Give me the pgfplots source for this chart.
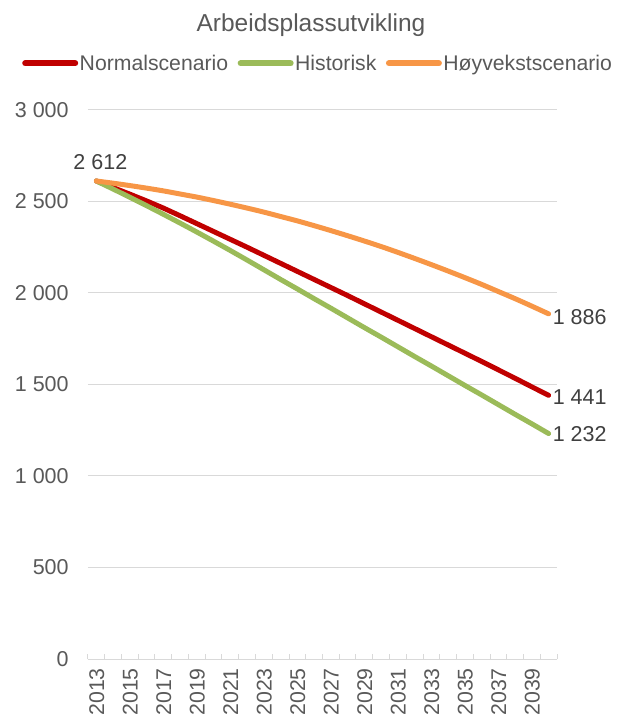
\documentclass[border=0pt]{standalone}
\usepackage{fontspec}
\setmainfont{Liberation Sans}
\usepackage{pgfplots}
\pgfplotsset{compat=1.18}
\definecolor{cred}{HTML}{C00000}
\definecolor{cgreen}{HTML}{9BBB59}
\definecolor{corange}{HTML}{F79646}
\definecolor{gridgray}{HTML}{D9D9D9}
\definecolor{textgray}{HTML}{595959}
\definecolor{labgray}{HTML}{404040}
\begin{document}
\begin{tikzpicture}
\begin{axis}[
  at={(0pt,0pt)}, anchor=south west,
  scale only axis, width=469pt, height=549pt,
  xmin=2012.5, xmax=2040.5, ymin=0, ymax=3000,
  axis x line=bottom, axis y line=left,
  x axis line style={draw=gridgray, line width=1pt, -},
  y axis line style={draw=none},
  xtick={2013,2015,...,2039},
  minor xtick={2012.5,2013.5,...,2040.5},
  major x tick style={draw=none},
  minor x tick style={draw=gridgray, line width=1pt},
  minor tick length=5pt,
  xtick align=inside,
  ytick={0,500,...,3000},
  ytick style={draw=none},
  ymajorgrids, grid style={draw=gridgray, line width=1pt},
  /pgf/number format/assume math mode=true,
  x tick label style={/pgf/number format/1000 sep={}, rotate=90, anchor=east, inner sep=0pt, xshift=-9pt, yshift=-0.5pt,
     font=\fontsize{21.3}{25}\selectfont, text=textgray},
  y tick label style={/pgf/number format/1000 sep={\ }, anchor=east, inner sep=0pt, xshift=-17pt,
     font=\fontsize{21.5}{25}\selectfont, text=textgray},
  title={Arbeidsplassutvikling},
  title style={at={(0.4755,1.144)}, anchor=center, yshift=0pt, inner sep=0pt, font=\fontsize{24.5}{28}\selectfont, text=textgray},
  legend columns=-1,
  legend style={at={(0.490,1.085)}, anchor=center, draw=none, fill=none,
     font=\fontsize{21.2}{25}\selectfont, text=textgray,
     /tikz/every even column/.append style={column sep=8pt},
     /tikz/every odd column/.append style={column sep=0pt},
     nodes={inner sep=1.5pt}},
  legend image code/.code={\draw[#1, line cap=round, line width=6pt] (0pt,0pt) -- (50pt,0pt);},
  every axis plot/.append style={line width=5pt, line cap=round, line join=round, no markers},
  clip=false,
]
\addplot[cred] coordinates {
(2013,2612) (2014,2576) (2015,2540) (2016,2503) (2017,2464) (2018,2422) (2019,2379)
(2020,2336) (2021,2293) (2022,2250) (2023,2206) (2024,2162) (2025,2118) (2026,2074)
(2027,2030) (2028,1986) (2029,1941) (2030,1896) (2031,1851) (2032,1806) (2033,1761)
(2034,1716) (2035,1671) (2036,1626) (2037,1580) (2038,1534) (2039,1487) (2040,1441)};
\addlegendentry{Normalscenario}
\addplot[cgreen] coordinates {
(2013,2612) (2014,2568) (2015,2523) (2016,2477) (2017,2430) (2018,2382) (2019,2333)
(2020,2283) (2021,2232) (2022,2180) (2023,2127) (2024,2074) (2025,2022) (2026,1969)
(2027,1917) (2028,1864) (2029,1811) (2030,1759) (2031,1706) (2032,1653) (2033,1601)
(2034,1548) (2035,1495) (2036,1443) (2037,1390) (2038,1337) (2039,1285) (2040,1232)};
\addlegendentry{Historisk}
\addplot[corange, smooth] coordinates {
(2013,2612) (2014,2600) (2015,2587) (2016,2573) (2017,2558) (2018,2541) (2019,2524)
(2020,2505) (2021,2485) (2022,2464) (2023,2442) (2024,2418) (2025,2394) (2026,2368)
(2027,2341) (2028,2313) (2029,2284) (2030,2254) (2031,2222) (2032,2189) (2033,2155)
(2034,2120) (2035,2084) (2036,2047) (2037,2008) (2038,1969) (2039,1928) (2040,1886)};
\addlegendentry{Høyvekstscenario}
\node[anchor=south, inner sep=0pt, xshift=4pt, yshift=11pt, font=\fontsize{21.5}{25}\selectfont, text=labgray] at (axis cs:2013,2612) {2 612};
\node[anchor=west, inner sep=0pt, xshift=4pt, yshift=-3pt, font=\fontsize{21.5}{25}\selectfont, text=labgray] at (axis cs:2040,1886) {1 886};
\node[anchor=west, inner sep=0pt, xshift=4pt, yshift=-2pt, font=\fontsize{21.5}{25}\selectfont, text=labgray] at (axis cs:2040,1441) {1 441};
\node[anchor=west, inner sep=0pt, xshift=4pt, yshift=-1pt, font=\fontsize{21.5}{25}\selectfont, text=labgray] at (axis cs:2040,1232) {1 232};
\end{axis}
\pgfresetboundingbox
\path[use as bounding box] (-88pt,-58pt) rectangle (538pt,659pt);
\end{tikzpicture}
\end{document}
